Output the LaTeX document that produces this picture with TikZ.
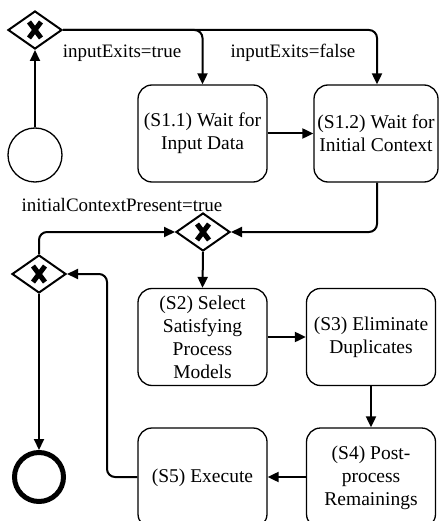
\documentclass[tikz,border=0pt]{standalone}
\usepackage{fontspec}
\setmainfont{Liberation Serif}
\usetikzlibrary{shapes.geometric,arrows.meta}
\tikzset{
  task/.style={draw, line width=1.3pt, rounded corners=14pt, minimum width=129pt,
    minimum height=97pt, align=center, inner sep=2pt,
    font=\fontsize{19.5pt}{23pt}\selectfont},
  gw/.style={draw, diamond, line width=2pt, minimum width=54pt, minimum height=38pt,
    inner sep=0pt, fill=white,
    path picture={\draw[line width=5pt]
      ([shift={(-6pt,-8pt)}]path picture bounding box.center) -- ([shift={(6pt,8pt)}]path picture bounding box.center)
      ([shift={(-6pt,8pt)}]path picture bounding box.center) -- ([shift={(6pt,-8pt)}]path picture bounding box.center);}},
  lbl/.style={font=\fontsize{19pt}{22pt}\selectfont, inner sep=0pt},
  flow/.style={line width=2pt, rounded corners=8pt, -{Triangle[length=11pt,width=10pt]}},
}
\begin{document}
\begin{tikzpicture}[x=1pt,y=-1pt]
\useasboundingbox (0,0) rectangle (439,521);
\clip (0,0) rectangle (439,521);
% events
\node[circle, draw, line width=1.3pt, minimum size=54pt, inner sep=0pt] (start) at (35,155) {};
\node[circle, draw, line width=5pt, minimum size=49pt, inner sep=0pt] (end) at (39,477) {};
% gateways
\node[gw] (gtop) at (35,30) {};
\node[gw] (gmid) at (203,232) {};
\node[gw] (gleft) at (39,274) {};
% tasks
\node[task] (s11) at (202.5,133.5) {(S1.1) Wait for\\Input Data};
\node[task, minimum width=124pt] (s12) at (376,133.5) {(S1.2) Wait for\\Initial Context};
\node[task] (s2) at (202.5,337) {(S2) Select\\Satisfying\\Process\\Models};
\node[task] (s3) at (371,337) {(S3) Eliminate\\Duplicates};
\node[task, minimum height=100pt] (s4) at (371,478) {(S4) Post-\\process\\Remainings};
\node[task, minimum height=100pt] (s5) at (202.5,478) {(S5) Execute};
% labels
\node[lbl] (l1) at (122,53) {inputExits=true};
\node[lbl] (l2) at (293,53) {inputExits=false};
\node[lbl] (l3) at (122,205) {initialContextPresent=true};
% coordinates
\coordinate (c1) at (202.5,30);
\coordinate (c2) at (377,30);
\coordinate (c3) at (377,232);
\coordinate (c4) at (39,232);
\coordinate (c5) at (107,477);
\coordinate (c6) at (107,274);
% flows
\draw[flow] (start) -- (gtop);
\draw[flow] (gtop.east) -- (c1) -- (s11.north);
\draw[flow] (gtop.east) -- (c2) -- (s12.north -| c2);
\draw[flow] (s11.east) -- (s12.west);
\draw[flow] (s12.south -| c3) -- (c3) -- (gmid.east);
\draw[flow] (gleft.north) -- (c4) -- (gmid.west);
\draw[flow] (gmid.south) -- (s2.north);
\draw[flow] (s2.east) -- (s3.west);
\draw[flow] (s3.south) -- (s4.north);
\draw[flow] (s4.west |- c5) -- (s5.east |- c5);
\draw[flow] (s5.west |- c5) -- (c5) -- (c6) -- (gleft.east);
\draw[flow] (gleft.south) -- (end.north);
\end{tikzpicture}
\end{document}
